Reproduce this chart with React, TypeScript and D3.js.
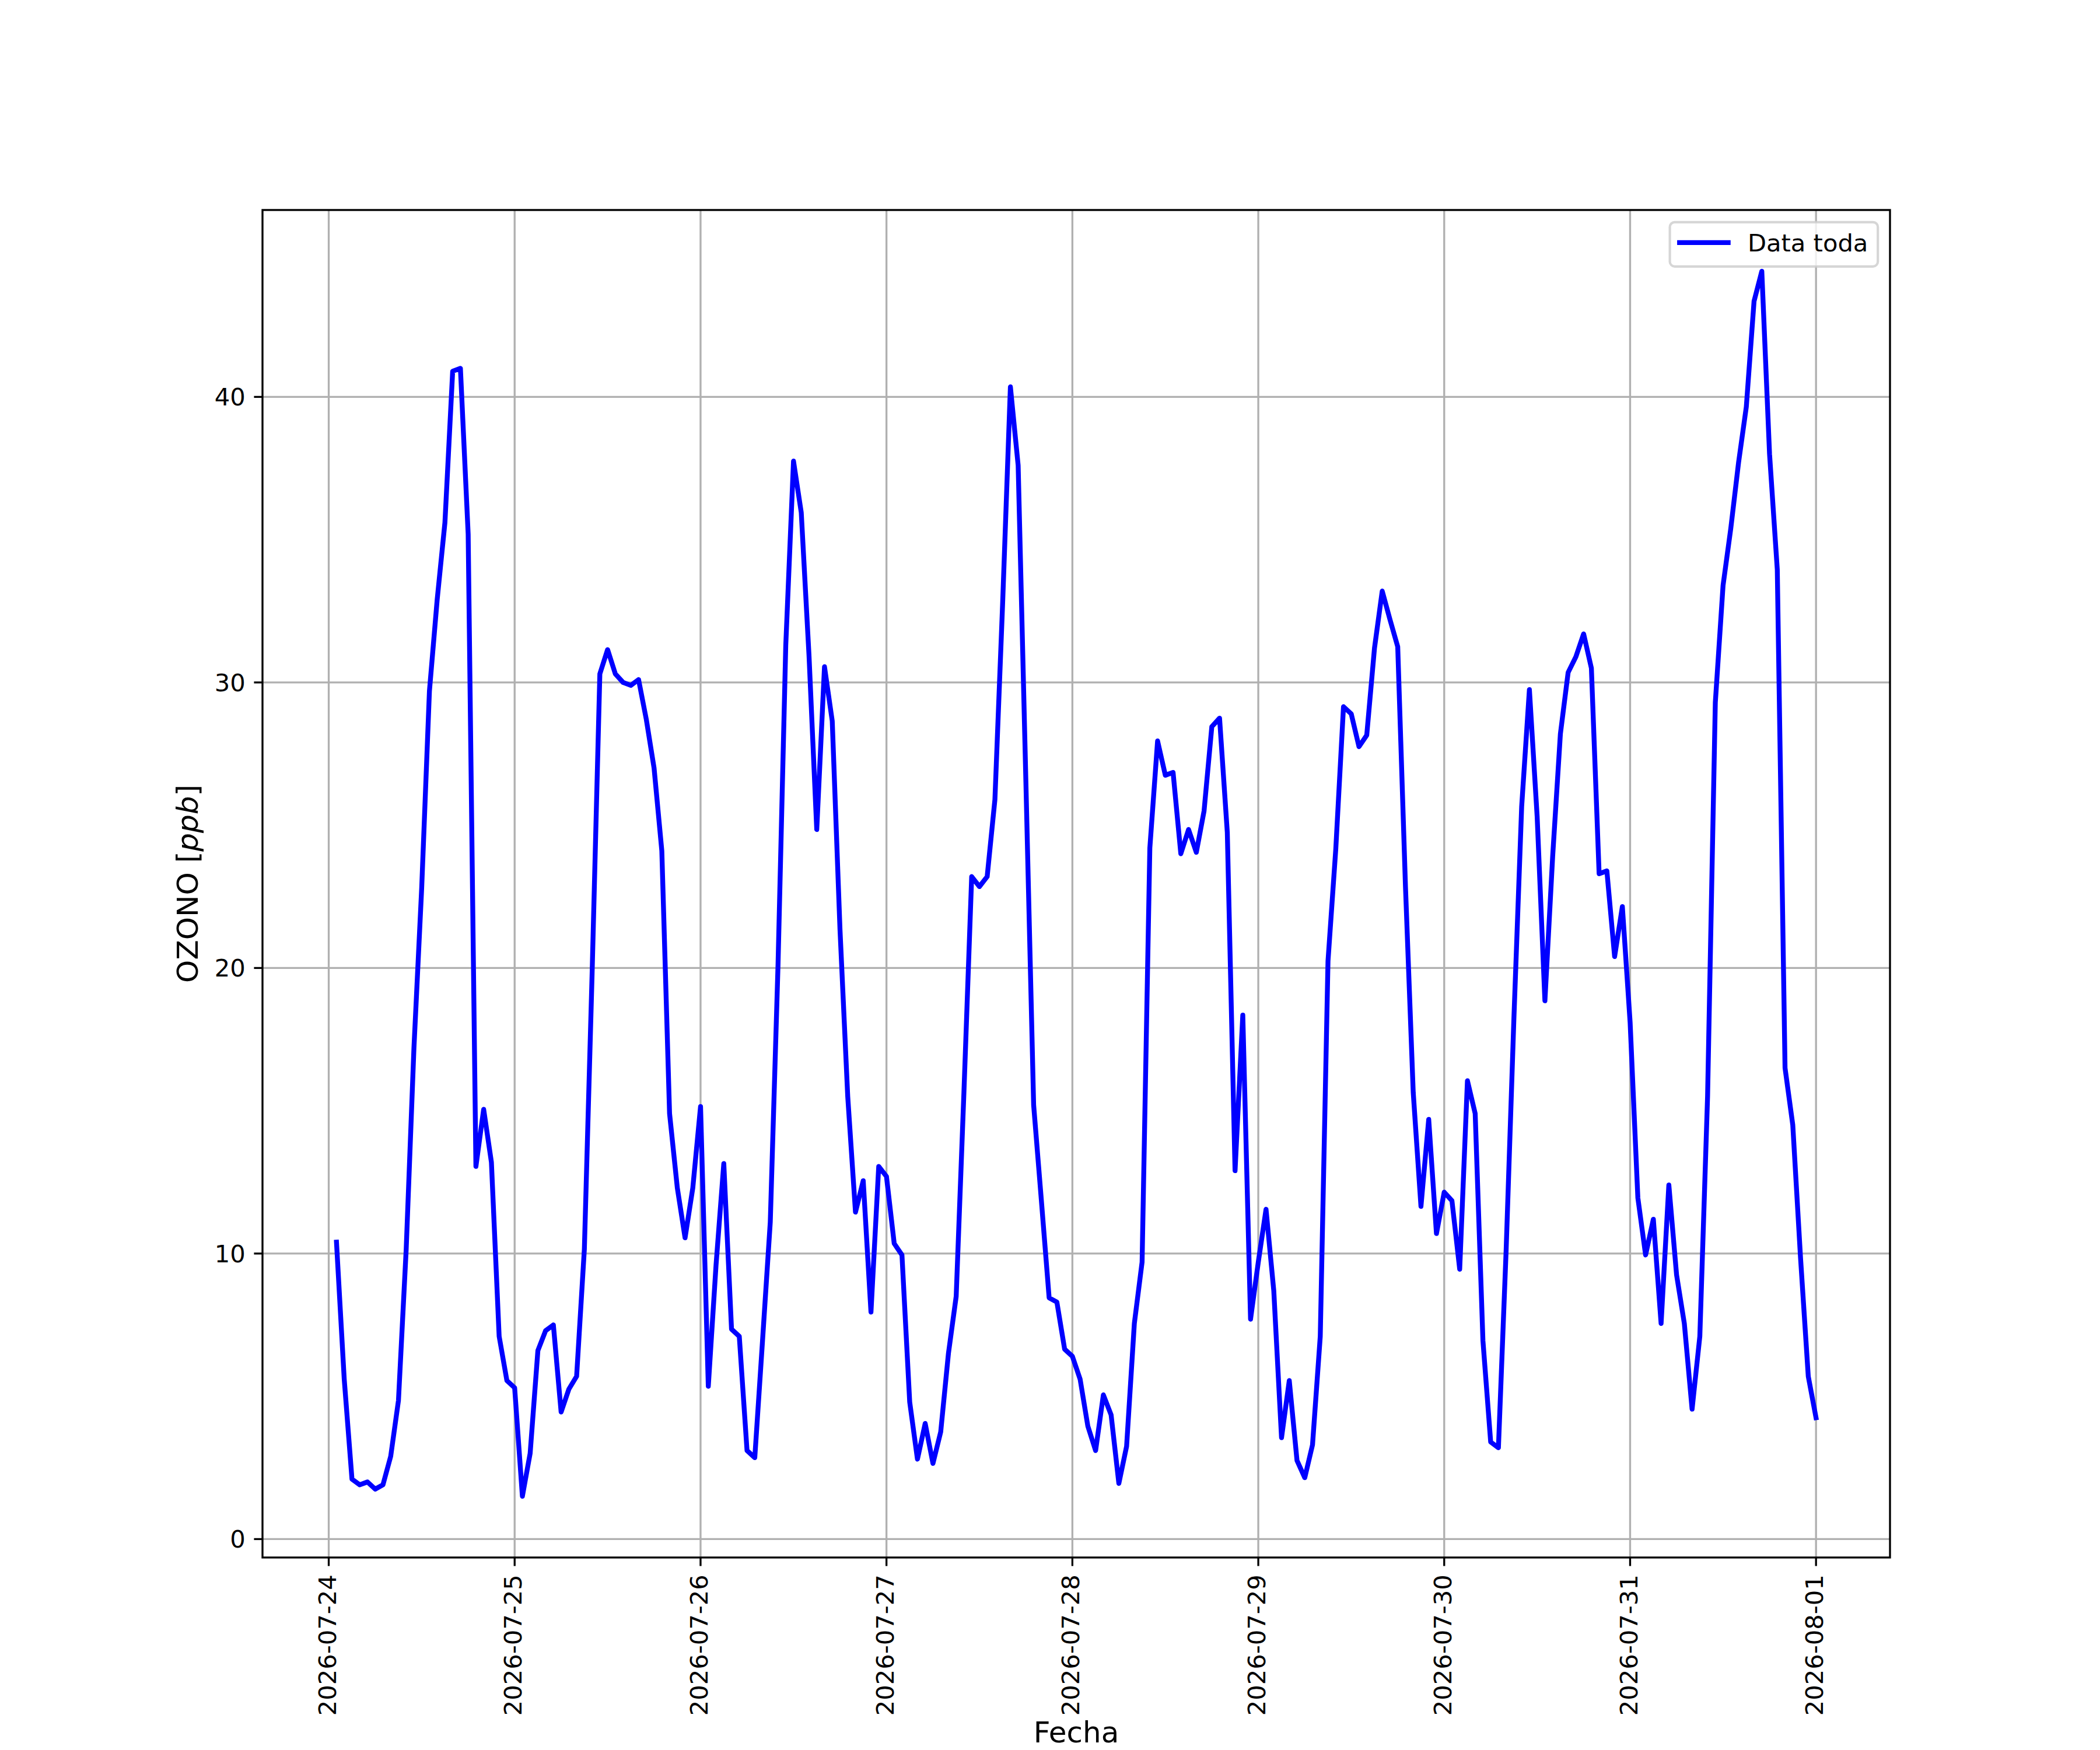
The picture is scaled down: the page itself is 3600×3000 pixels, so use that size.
import React, { useEffect } from "react";
import * as d3 from "d3";

// hourly ozone readings (ppb), one array per day
const startDay = "2026-07-24";
// 2026-07-24 starts at 01:00
const day24 = [10.4, 5.6, 2.1, 1.9, 2.0, 1.75, 1.9, 2.9, 4.85, 10.15, 17.2, 22.8, 29.7, 32.9, 35.6, 40.9, 41.0, 35.2, 13.05, 15.05, 13.2, 7.1, 5.55];
const day25 = [5.3, 1.5, 3.0, 6.6, 7.3, 7.5, 4.45, 5.25, 5.7, 10.15, 19.8, 30.3, 31.15, 30.3, 30.0, 29.9, 30.1, 28.7, 27.0, 24.1, 14.9, 12.3, 10.55, 12.3];
const day26 = [15.15, 5.35, 9.6, 13.15, 7.35, 7.1, 3.1, 2.85, 6.95, 11.1, 20.1, 31.3, 37.75, 35.95, 30.95, 24.85, 30.55, 28.65, 21.35, 15.5, 11.45, 12.55, 7.95, 13.05];
const day27 = [12.7, 10.35, 9.95, 4.8, 2.8, 4.05, 2.65, 3.75, 6.5, 8.5, 15.65, 23.2, 22.85, 23.2, 25.9, 32.8, 40.35, 37.6, 26.5, 15.2, 11.85, 8.45, 8.3, 6.65];
const day28 = [6.4, 5.6, 3.95, 3.1, 5.05, 4.35, 1.95, 3.25, 7.55, 9.7, 24.2, 27.95, 26.75, 26.85, 24.0, 24.85, 24.05, 25.5, 28.45, 28.75, 24.75, 12.9, 18.35, 7.7];
const day29 = [9.7, 11.55, 8.7, 3.55, 5.55, 2.75, 2.15, 3.3, 7.1, 20.25, 24.15, 29.15, 28.9, 27.75, 28.15, 31.2, 33.2, 32.2, 31.25, 22.85, 15.65, 11.65, 14.7, 10.7];
const day30 = [12.15, 11.85, 9.45, 16.05, 14.9, 6.95, 3.4, 3.2, 10.15, 18.25, 25.65, 29.75, 25.3, 18.85, 23.9, 28.2, 30.35, 30.9, 31.7, 30.5, 23.3, 23.4, 20.4, 22.15];
const day31 = [18.1, 11.95, 9.95, 11.2, 7.55, 12.4, 9.25, 7.55, 4.55, 7.1, 15.5, 29.3, 33.4, 35.4, 37.7, 39.65, 43.35, 44.4, 38.0, 33.95, 16.5, 14.5, 9.85, 5.7];
const day01 = [4.25];

const xTickLabels = ["2026-07-24", "2026-07-25", "2026-07-26", "2026-07-27", "2026-07-28", "2026-07-29", "2026-07-30", "2026-07-31", "2026-08-01"];
const yTicks = [0, 10, 20, 30, 40];

const seriesLabel = "Data toda";
const xLabel = "Fecha";

interface Point {
  t: Date;
  v: number;
}

const parseDay = d3.utcParse("%Y-%m-%d");
const HOUR = 3600 * 1000;

// build timestamps: first value of the set is at 01:00 on startDay
const allValues = [...day24, ...day25, ...day26, ...day27, ...day28, ...day29, ...day30, ...day31, ...day01];
const t0 = parseDay(startDay)!.getTime() + HOUR;
const data: Point[] = allValues.map((v, i) => ({ t: new Date(t0 + i * HOUR), v }));

const W = 3600;
const H = 3000;
const left = 450;
const right = 3240;
const top = 360;
const bottom = 2670;

const PT = 300 / 72;
const font = "DejaVu Sans";
const tickFs = 10 * PT;
const labelFs = 12 * PT;
const tickLen = 3.5 * PT;
const tickPad = 3.5 * PT;

const App: React.FC = () => {
  useEffect(() => {
    document.body.style.margin = "0";
  }, []);

  // matplotlib style 5% padding on both axes
  const [tMin, tMax] = d3.extent(data, d => d.t.getTime()) as [number, number];
  const tPad = (tMax - tMin) * 0.05;
  const x = d3.scaleUtc()
    .domain([new Date(tMin - tPad), new Date(tMax + tPad)])
    .range([left, right]);

  const [vMin, vMax] = d3.extent(data, d => d.v) as [number, number];
  const vPad = (vMax - vMin) * 0.05;
  const y = d3.scaleLinear()
    .domain([vMin - vPad, vMax + vPad])
    .range([bottom, top]);

  const line = d3.line<Point>()
    .x(d => x(d.t))
    .y(d => y(d.v));

  const xTicks = xTickLabels.map(s => ({ label: s, t: parseDay(s)! }));

  const gridColor = "#b0b0b0";
  const thin = 0.8 * PT;

  // legend box geometry (matplotlib defaults in font-size units)
  const lfs = tickFs;
  const textW = 4.958 * lfs;
  const legW = 0.4 * lfs + 2 * lfs + 0.8 * lfs + textW + 0.4 * lfs;
  const legH = 76;
  const legX = right - 0.5 * lfs - legW;
  const legY = top + 0.5 * lfs;

  return (
    <svg width={W} height={H} viewBox={`0 0 ${W} ${H}`} style={{ display: "block", background: "#ffffff" }}>
      <rect x={0} y={0} width={W} height={H} fill="#ffffff" />
      <defs>
        <clipPath id="plotArea">
          <rect x={left} y={top} width={right - left} height={bottom - top} />
        </clipPath>
      </defs>

      {/* grid */}
      <g stroke={gridColor} strokeWidth={thin}>
        {xTicks.map(d => (
          <line key={d.label} x1={x(d.t)} x2={x(d.t)} y1={top} y2={bottom} />
        ))}
        {yTicks.map(v => (
          <line key={v} x1={left} x2={right} y1={y(v)} y2={y(v)} />
        ))}
      </g>

      {/* data line */}
      <path
        d={line(data) || ""}
        fill="none"
        stroke="#0000ff"
        strokeWidth={2 * PT}
        strokeLinejoin="round"
        strokeLinecap="square"
        clipPath="url(#plotArea)"
      />

      {/* spines */}
      <rect x={left} y={top} width={right - left} height={bottom - top} fill="none" stroke="#000000" strokeWidth={thin} />

      {/* x ticks */}
      <g fontFamily={font} fontSize={tickFs} fill="#000000">
        {xTicks.map(d => (
          <g key={d.label}>
            <line x1={x(d.t)} x2={x(d.t)} y1={bottom} y2={bottom + tickLen} stroke="#000000" strokeWidth={thin} />
            <text
              transform={`translate(${x(d.t)},${bottom + tickLen + tickPad}) rotate(-90)`}
              textAnchor="end"
              dy="0.29em"
            >
              {d.label}
            </text>
          </g>
        ))}
      </g>

      {/* y ticks */}
      <g fontFamily={font} fontSize={tickFs} fill="#000000">
        {yTicks.map(v => (
          <g key={v}>
            <line x1={left - tickLen} x2={left} y1={y(v)} y2={y(v)} stroke="#000000" strokeWidth={thin} />
            <text x={left - tickLen - tickPad} y={y(v)} dy="0.36em" textAnchor="end">
              {v}
            </text>
          </g>
        ))}
      </g>

      {/* axis labels */}
      <text x={(left + right) / 2} y={2987} textAnchor="middle" fontFamily={font} fontSize={labelFs}>
        {xLabel}
      </text>
      <text
        transform={`translate(339,${(top + bottom) / 2}) rotate(-90)`}
        textAnchor="middle"
        fontFamily={font}
        fontSize={labelFs}
      >
        OZONO [<tspan fontStyle="italic">ppb</tspan>]
      </text>

      {/* legend */}
      <g>
        <rect
          x={legX}
          y={legY}
          width={legW}
          height={legH}
          rx={0.2 * lfs}
          fill="#ffffff"
          fillOpacity={0.8}
          stroke="#cccccc"
          strokeOpacity={0.8}
          strokeWidth={1 * PT}
        />
        <line
          x1={legX + 0.4 * lfs}
          x2={legX + 2.4 * lfs}
          y1={legY + 35}
          y2={legY + 35}
          stroke="#0000ff"
          strokeWidth={2 * PT}
          strokeLinecap="square"
        />
        <text x={legX + 3.2 * lfs} y={legY + 50} fontFamily={font} fontSize={lfs}>
          {seriesLabel}
        </text>
      </g>
    </svg>
  );
};

export default App;
